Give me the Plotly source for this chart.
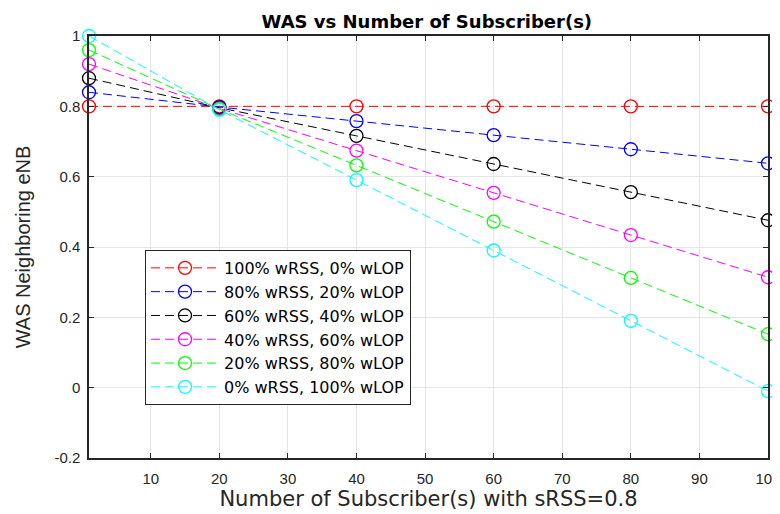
import plotly.graph_objects as go

x_vals = [1, 20, 40, 60, 80, 100]
labels = [
    "100% wRSS, 0% wLOP",
    "80% wRSS, 20% wLOP",
    "60% wRSS, 40% wLOP",
    "40% wRSS, 60% wLOP",
    "20% wRSS, 80% wLOP",
    "0% wRSS, 100% wLOP",
]
s100_0 = [0.80, 0.80, 0.80, 0.80, 0.80, 0.80]
s80_20 = [0.84, 0.798, 0.758, 0.718, 0.678, 0.638]
s60_40 = [0.88, 0.796, 0.716, 0.636, 0.556, 0.476]
s40_60 = [0.92, 0.794, 0.674, 0.554, 0.434, 0.314]
s20_80 = [0.96, 0.792, 0.632, 0.472, 0.312, 0.152]
s0_100 = [1.00, 0.79, 0.59, 0.39, 0.19, -0.01]
colors = ["#ff0000", "#0000ff", "#000000", "#ff00ff", "#00ff00", "#00ffff"]
x_ticks = [10, 20, 30, 40, 50, 60, 70, 80, 90, 100]
y_ticks = [-0.2, 0, 0.2, 0.4, 0.6, 0.8, 1]
y_tick_text = ["-0.2", "0", "0.2", "0.4", "0.6", "0.8", "1"]

series = [s100_0, s80_20, s60_40, s40_60, s20_80, s0_100]

FONT = "DejaVu Sans, Liberation Sans, Arial, sans-serif"
TICKFONT = "Liberation Sans, Arial, sans-serif"

fig = go.Figure()
for name, ys, c in zip(labels, series, colors):
    fig.add_trace(go.Scatter(
        x=x_vals, y=ys, name=name, mode="lines+markers",
        line=dict(color=c, width=1, dash="9px,5px"),
        marker=dict(symbol="circle-open", size=13, color=c, line=dict(width=1.3, color=c)),
        cliponaxis=False,
    ))

axis_common = dict(
    showline=True, linecolor="#262626", linewidth=1.5, mirror="allticks",
    ticks="inside", ticklen=5, tickcolor="#262626",
    showgrid=True, gridcolor="#e5e5e5", gridwidth=1, zeroline=False,
    tickfont=dict(family=TICKFONT, size=15, color="#262626"),
    automargin=False, ticklabeloverflow="allow",
)

fig.update_layout(
    width=780, height=506,
    margin=dict(l=81, r=20, t=28, b=56),
    paper_bgcolor="white", plot_bgcolor="white",
    title=dict(text="<b>WAS vs Number of Subscriber(s)</b>", x=0.537, xanchor="center",
               y=0.973, yanchor="middle",
               font=dict(family=FONT, size=18, color="#000000")),
    xaxis=dict(range=[1, 100], tickvals=x_ticks, ticklabelstandoff=6,
               title=dict(text="Number of Subscriber(s) with sRSS=0.8", standoff=2,
                          font=dict(family=FONT, size=21, color="#262626")),
               **axis_common),
    yaxis=dict(range=[-0.2, 1], tickvals=y_ticks, ticktext=y_tick_text, ticklabelstandoff=4,
               title=dict(text="WAS Neighboring eNB", standoff=18,
                          font=dict(family="Liberation Sans, Arial, sans-serif", size=20, color="#262626")),
               **axis_common),
    legend=dict(x=0.0825, y=0.493, xanchor="left", yanchor="top",
                bgcolor="white", bordercolor="#262626", borderwidth=1,
                font=dict(family=FONT, size=16, color="#000000"),
                itemwidth=68, tracegroupgap=0),
    showlegend=True,
)

fig.write_html("out.html")
